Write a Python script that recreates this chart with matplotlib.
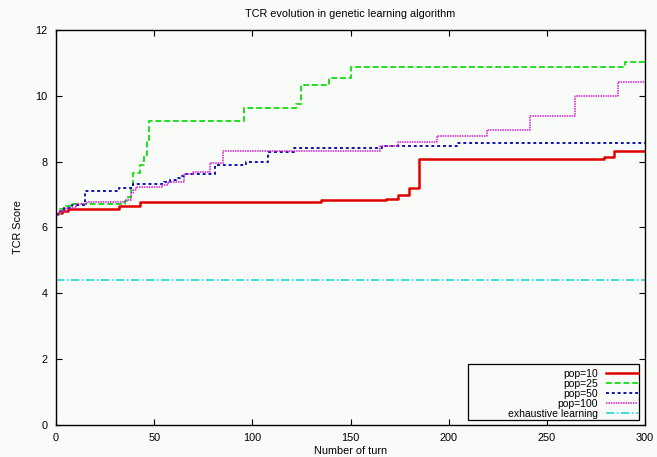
import matplotlib
matplotlib.use("Agg")
import matplotlib.pyplot as plt
from matplotlib.patches import Rectangle

plt.rcParams['font.family'] = ['Liberation Sans', 'DejaVu Sans']

# Data (step functions: turn where the value starts, value)
red_turns = [0, 1, 3, 6, 32, 43, 128, 135, 168, 174, 180, 185, 279, 284, 300]
red_vals = [6.4, 6.45, 6.5, 6.56, 6.66, 6.76, 6.78, 6.84, 6.88, 6.99, 7.21, 8.08, 8.14, 8.32, 8.32]

green_turns = [0, 2, 4, 7, 35, 36.5, 38, 39, 43, 45, 46.5, 47.5, 96, 122, 125, 139, 150, 290, 300]
green_vals = [6.4, 6.55, 6.65, 6.7, 6.8, 6.94, 7.3, 7.67, 7.9, 8.2, 8.6, 9.23, 9.64, 9.75, 10.32, 10.54, 10.89, 11.03, 11.03]

blue_turns = [0, 2, 4, 8, 15, 32, 39, 55, 58, 61, 63, 65, 81, 97, 108, 121, 166, 204, 300]
blue_vals = [6.4, 6.5, 6.6, 6.69, 7.12, 7.2, 7.32, 7.38, 7.44, 7.5, 7.55, 7.62, 7.9, 7.98, 8.28, 8.43, 8.47, 8.58, 8.58]

mag_turns = [0, 2, 5, 10, 16, 35, 38, 39, 41, 54, 57, 65, 70, 78.5, 85, 165, 174, 194, 219.5, 241.5, 264.5, 286, 300]
mag_vals = [6.4, 6.5, 6.6, 6.7, 6.76, 6.83, 7.04, 7.15, 7.24, 7.3, 7.39, 7.64, 7.7, 7.95, 8.33, 8.48, 8.6, 8.78, 8.95, 9.4, 9.99, 10.43, 10.43]

exh_turns = [0, 300]
exh_vals = [4.4, 4.4]

labels = ["pop=10", "pop=25", "pop=50", "pop=100", "exhaustive learning"]
xticks = [0, 50, 100, 150, 200, 250, 300]
yticks = [0, 2, 4, 6, 8, 10, 12]

bg = '#f8fbf8'
fs = 7.8
fig = plt.figure(figsize=(6.57, 4.57), dpi=100, facecolor=bg)
ax = fig.add_axes([56/657, 1-425/457, (645-56)/657, (425-30)/457], facecolor=bg)

ax.plot(red_turns, red_vals, drawstyle='steps-post', color='#e00000', lw=1.8, label=labels[0])
ax.plot(green_turns, green_vals, drawstyle='steps-post', color='#20e020', lw=1.4, ls=(0, (3, 1.5)), label=labels[1])
ax.plot(blue_turns, blue_vals, drawstyle='steps-post', color='#1010b0', lw=1.4, ls=(0, (1.5, 1.5)), label=labels[2])
ax.plot(mag_turns, mag_vals, drawstyle='steps-post', color='#d020d0', lw=1.1, ls=(0, (1, 0.6)), label=labels[3])
ax.plot(exh_turns, exh_vals, color='#20d8d8', lw=1.2, ls=(0, (5, 1.5, 1, 1.5)), label=labels[4])

ax.set_xlim(0, 300)
ax.set_ylim(0, 12)
ax.set_xticks(xticks)
ax.set_yticks(yticks)
ax.tick_params(direction='in', top=True, right=True, length=4, width=0.8, labelsize=fs)
ax.tick_params(axis='x', pad=6)
ax.tick_params(axis='y', pad=6)
for s in ax.spines.values():
    s.set_linewidth(1.0)

ax.set_title("TCR evolution in genetic learning algorithm", fontsize=fs, pad=9)
ax.set_xlabel("Number of turn", fontsize=fs, labelpad=2)
ax.set_ylabel("TCR Score", fontsize=fs, labelpad=9)

# legend box (gnuplot style, wider on the left)
box = Rectangle((0.6995, 0.0127), 0.2903, 0.1405, transform=ax.transAxes, facecolor=bg,
                edgecolor='black', lw=0.9, zorder=4)
ax.add_patch(box)
leg = ax.legend(loc='lower right', bbox_to_anchor=(0.9898, 0.0127), fontsize=7.5, markerfirst=False,
                frameon=False, handlelength=3.0, handletextpad=0.8,
                labelspacing=0.0, borderpad=0.12, borderaxespad=0.0)
leg.set_zorder(5)

fig.savefig("out.png", dpi=100, facecolor=bg)
